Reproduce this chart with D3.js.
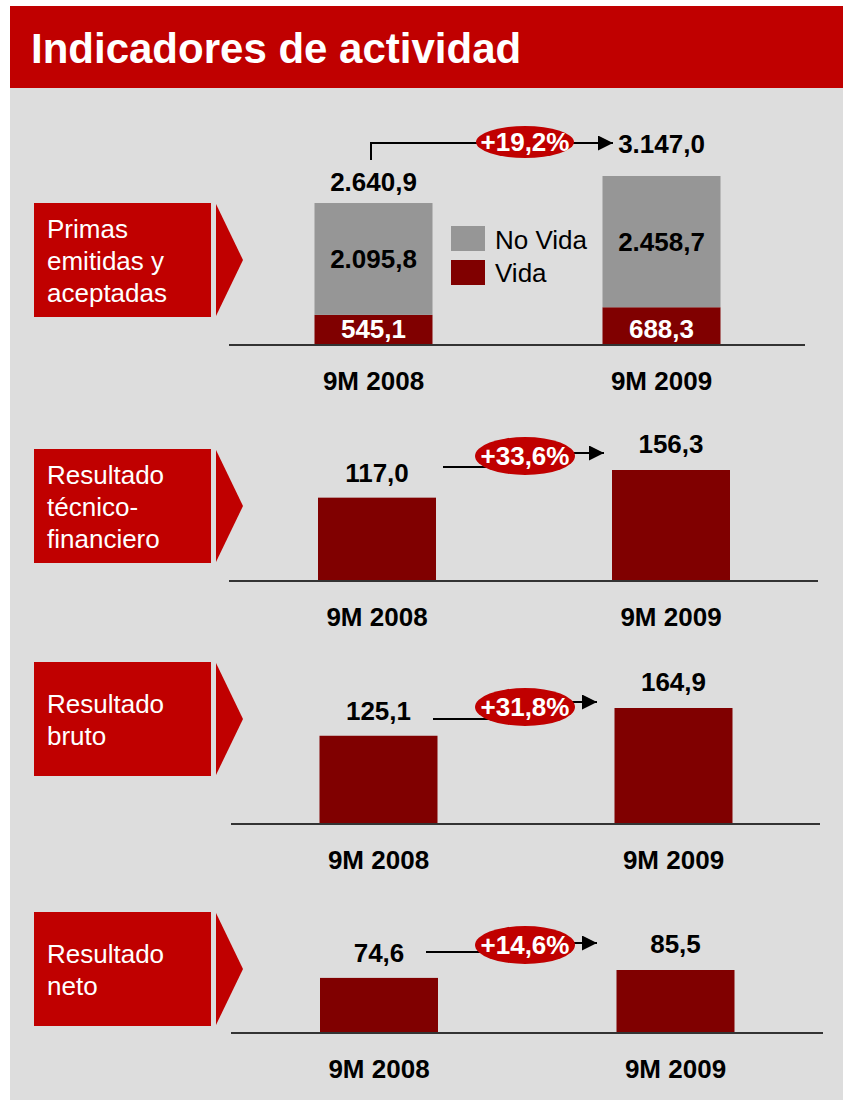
<!DOCTYPE html>
<html>
<head>
<meta charset="utf-8">
<script src="https://cdn.jsdelivr.net/npm/d3@7"></script>
<style>
  body { margin: 0; background: #fff; }
  svg { display: block; font-family: "Liberation Sans", Arial, sans-serif; }
</style>
</head>
<body>
<div id="chart"></div>
<script>
// data
const periods = ["9M 2008", "9M 2009"];
const primasNoVida = [2095.8, 2458.7];
const primasVida = [545.1, 688.3];
const primasTotal = [2640.9, 3147.0];
const resTecnico = [117.0, 156.3];
const resBruto = [125.1, 164.9];
const resNeto = [74.6, 85.5];
const growth = ["+19,2%", "+33,6%", "+31,8%", "+14,6%"];
const sectionLabels = [
  ["Primas", "emitidas y", "aceptadas"],
  ["Resultado", "técnico-", "financiero"],
  ["Resultado", "bruto"],
  ["Resultado", "neto"]
];
const legendLabels = ["No Vida", "Vida"];

const RED = "#c00000", DARK = "#800000", GREY = "#969696", BG = "#dddddd";
const fmt = v => {
  const s = v.toFixed(1).split(".");
  return s[0].replace(/\B(?=(\d{3})+(?!\d))/g, ".") + "," + s[1];
};

// layout per panel (pixels)
const panels = [
  { box: 203, axisY: 344, ax: [229, 805], c: [373.5, 661.5], hMax: 168, max: 3147.0,
    values: primasTotal, arrow: { type: "elbow", x0: 371, y0: 160, y1: 143, tip: 613, ex: 525, ey: 142, rx: 49, ry: 16 } },
  { box: 449, axisY: 580, ax: [229, 818], c: [377, 671], hMax: 110, max: 156.3,
    values: resTecnico, arrow: { x0: 443, y0: 467, y1: 453, tip: 604, ex: 525, ey: 456, rx: 50, ry: 19 } },
  { box: 662, axisY: 823, ax: [231, 820], c: [378.5, 673.5], hMax: 115, max: 164.9,
    values: resBruto, arrow: { x0: 433, y0: 719, y1: 702, tip: 597, ex: 525, ey: 707, rx: 50, ry: 19 } },
  { box: 912, axisY: 1032, ax: [231, 823], c: [379, 675.5], hMax: 62, max: 85.5,
    values: resNeto, arrow: { x0: 426, y0: 952, y1: 943, tip: 597, ex: 525, ey: 945, rx: 50, ry: 19 } }
];

const W = 843, H = 1101, BW = 118, FS = 26;
const svg = d3.select("#chart").append("svg").attr("width", W).attr("height", H);

svg.append("defs").append("marker")
  .attr("id", "ah").attr("viewBox", "0 0 10 10").attr("refX", 10).attr("refY", 5)
  .attr("markerWidth", 16).attr("markerHeight", 15).attr("markerUnits", "userSpaceOnUse")
  .attr("orient", "auto")
  .append("path").attr("d", "M0,0L10,5L0,10Z").attr("fill", "#000");

// header + background
svg.append("rect").attr("x", 10).attr("y", 88).attr("width", W - 10).attr("height", 1012).attr("fill", BG);
svg.append("rect").attr("x", 10).attr("y", 6).attr("width", W - 10).attr("height", 82).attr("fill", RED);
svg.append("text").attr("x", 31).attr("y", 63).attr("fill", "#fff")
  .attr("font-size", 42).attr("font-weight", "bold").text("Indicadores de actividad");

panels.forEach((p, i) => {
  const g = svg.append("g");

  // section label box with chevron
  g.append("rect").attr("x", 34).attr("y", p.box).attr("width", 177).attr("height", 114).attr("fill", RED);
  g.append("path")
    .attr("d", `M216,${p.box + 1}L243,${p.box + 57}L216,${p.box + 113}Z`).attr("fill", RED);
  const lines = sectionLabels[i];
  const firstBase = lines.length === 3 ? p.box + 35 : p.box + 51;
  g.selectAll(".sl").data(lines).join("text")
    .attr("x", 47).attr("y", (d, k) => firstBase + k * 32)
    .attr("fill", "#fff").attr("font-size", FS).text(d => d);

  const x = d3.scaleBand().domain(periods)
    .range([p.c[0] - BW / 2, p.c[1] + BW / 2])
    .paddingInner(1 - BW / (p.c[1] - p.c[0]));
  const y = d3.scaleLinear().domain([0, p.max]).range([p.axisY, p.axisY - p.hMax]);

  if (i === 0) {
    const stack = periods.map((d, k) => ({ period: d, vida: primasVida[k], novida: primasNoVida[k] }));
    const series = d3.stack().keys(["vida", "novida"])(stack);
    const colors = { vida: DARK, novida: GREY };
    series.forEach(s => {
      g.selectAll(null).data(s).join("rect")
        .attr("x", d => x(d.data.period)).attr("width", x.bandwidth())
        .attr("y", d => y(d[1])).attr("height", d => y(d[0]) - y(d[1]))
        .attr("fill", colors[s.key]);
      g.selectAll(null).data(s).join("text")
        .attr("x", d => x(d.data.period) + x.bandwidth() / 2)
        .attr("y", d => s.key === "vida" ? p.axisY - 6 : (y(d[0]) + y(d[1])) / 2 + 9)
        .attr("text-anchor", "middle").attr("font-weight", "bold").attr("font-size", FS)
        .attr("fill", s.key === "vida" ? "#fff" : "#000")
        .text(d => fmt(d.data[s.key]));
    });
    // legend
    const leg = g.append("g");
    legendLabels.forEach((l, k) => {
      leg.append("rect").attr("x", 451).attr("y", 226 + k * 34).attr("width", 34).attr("height", 25)
        .attr("fill", k === 0 ? GREY : DARK);
      leg.append("text").attr("x", 495).attr("y", 249 + k * 33).attr("font-size", FS).text(l);
    });
  } else {
    g.selectAll(null).data(p.values).join("rect")
      .attr("x", (d, k) => x(periods[k])).attr("width", x.bandwidth())
      .attr("y", d => y(d)).attr("height", d => p.axisY - y(d))
      .attr("fill", DARK);
  }

  // totals / values above bars
  const offs = i === 0 ? [12, 23] : [16, 17];
  g.selectAll(null).data(p.values).join("text")
    .attr("x", (d, k) => x(periods[k]) + x.bandwidth() / 2)
    .attr("y", (d, k) => y(d) - offs[k])
    .attr("text-anchor", "middle").attr("font-weight", "bold").attr("font-size", FS)
    .text(d => fmt(d));

  // baseline
  g.append("line").attr("x1", p.ax[0]).attr("x2", p.ax[1])
    .attr("y1", p.axisY + 1).attr("y2", p.axisY + 1)
    .attr("stroke", "#333").attr("stroke-width", 2);

  // category axis labels
  const axis = d3.axisBottom(x).tickSize(0).tickPadding(0);
  const ag = g.append("g").attr("transform", `translate(0,${p.axisY})`).call(axis);
  ag.select(".domain").remove();
  ag.selectAll("text").attr("dy", null).attr("y", 46)
    .attr("font-size", FS).attr("font-weight", "bold").attr("fill", "#000")
    .attr("font-family", "Liberation Sans, Arial, sans-serif");

  // growth arrow
  const a = p.arrow;
  const d = a.type === "elbow"
    ? `M${a.x0},${a.y0}V${a.y1}H${a.tip}`
    : `M${a.x0},${a.y0}H${a.ex}V${a.y1}H${a.tip}`;
  g.append("path").attr("d", d).attr("fill", "none").attr("stroke", "#000")
    .attr("stroke-width", 2).attr("marker-end", "url(#ah)");
  g.append("ellipse").attr("cx", a.ex).attr("cy", a.ey).attr("rx", a.rx).attr("ry", a.ry).attr("fill", RED);
  g.append("text").attr("x", a.ex).attr("y", a.ey + 9).attr("text-anchor", "middle")
    .attr("fill", "#fff").attr("font-weight", "bold").attr("font-size", FS).text(growth[i]);
});
</script>
</body>
</html>
